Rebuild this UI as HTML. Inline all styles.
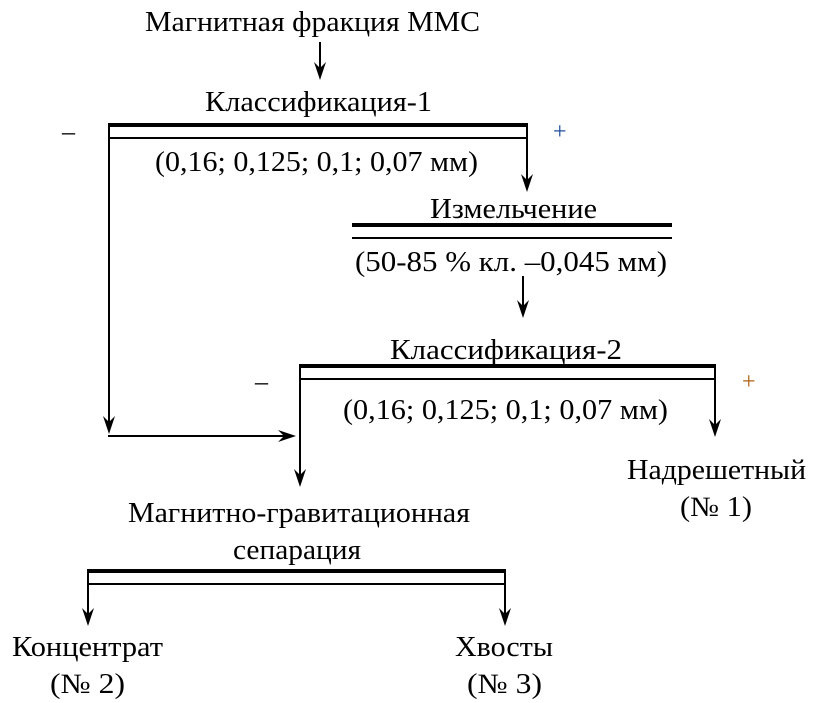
<!DOCTYPE html>
<html><head><meta charset="utf-8"><style>
html,body{margin:0;padding:0;background:#fff;}
svg{display:block;}
text{font-family:"Liberation Serif","Times New Roman",serif;font-size:28px;fill:#000;}
</style></head><body>
<svg width="821" height="703" viewBox="0 0 821 703" xmlns="http://www.w3.org/2000/svg">
<defs>
<path id="ad" d="M0,0 L-6,-18 L0,-12 L6,-18 Z" fill="#000"/>
</defs>
<g stroke="#000" fill="none" stroke-width="2">
<line x1="320" y1="42" x2="320" y2="74"/>
<line x1="108" y1="125" x2="528" y2="125" stroke-width="4"/>
<line x1="108" y1="138" x2="528" y2="138"/>
<line x1="109" y1="124" x2="109" y2="428"/>
<line x1="527" y1="124" x2="527" y2="186"/>
<line x1="352" y1="225" x2="672" y2="225" stroke-width="4"/>
<line x1="352" y1="238" x2="672" y2="238"/>
<line x1="523" y1="276" x2="523" y2="312"/>
<line x1="299" y1="366" x2="716" y2="366" stroke-width="4"/>
<line x1="299" y1="379" x2="716" y2="379"/>
<line x1="300" y1="365" x2="300" y2="481"/>
<line x1="715" y1="365" x2="715" y2="431"/>
<line x1="108" y1="436" x2="290" y2="436"/>
<line x1="87" y1="571" x2="506" y2="571" stroke-width="4"/>
<line x1="87" y1="584" x2="506" y2="584"/>
<line x1="88" y1="570" x2="88" y2="620"/>
<line x1="505" y1="570" x2="505" y2="620"/>
</g>
<use href="#ad" x="320" y="80"/>
<use href="#ad" x="109" y="434"/>
<use href="#ad" x="527" y="192"/>
<use href="#ad" x="523" y="318"/>
<use href="#ad" x="300" y="487"/>
<use href="#ad" x="715" y="437"/>
<use href="#ad" x="88" y="626"/>
<use href="#ad" x="505" y="626"/>
<path d="M296,436 L278,430 L284,436 L278,442 Z" fill="#000"/>
<text x="145" y="31" textLength="335" lengthAdjust="spacingAndGlyphs">Магнитная фракция ММС</text>
<text x="205" y="111" textLength="227" lengthAdjust="spacingAndGlyphs">Классификация-1</text>
<text x="62" y="140" style="font-size:26px">–</text>
<text x="553" y="139" style="font-size:24px;fill:#1f4e9a">+</text>
<text x="155" y="171" textLength="323" lengthAdjust="spacingAndGlyphs">(0,16; 0,125; 0,1; 0,07 мм)</text>
<text x="430" y="218" textLength="167" lengthAdjust="spacingAndGlyphs">Измельчение</text>
<text x="355" y="271" textLength="312" lengthAdjust="spacingAndGlyphs">(50-85 % кл. –0,045 мм)</text>
<text x="390" y="359" textLength="232" lengthAdjust="spacingAndGlyphs">Классификация-2</text>
<text x="255" y="390" style="font-size:26px">–</text>
<text x="742" y="389" style="font-size:24px;fill:#b06010">+</text>
<text x="343" y="419" textLength="325" lengthAdjust="spacingAndGlyphs">(0,16; 0,125; 0,1; 0,07 мм)</text>
<text x="627" y="479" textLength="179" lengthAdjust="spacingAndGlyphs">Надрешетный</text>
<text x="680" y="516" textLength="72" lengthAdjust="spacingAndGlyphs">(№ 1)</text>
<text x="128" y="522" textLength="342" lengthAdjust="spacingAndGlyphs">Магнитно-гравитационная</text>
<text x="233" y="559" textLength="128" lengthAdjust="spacingAndGlyphs">сепарация</text>
<text x="12" y="656" textLength="151" lengthAdjust="spacingAndGlyphs">Концентрат</text>
<text x="50" y="693" textLength="75" lengthAdjust="spacingAndGlyphs">(№ 2)</text>
<text x="455" y="656" textLength="98" lengthAdjust="spacingAndGlyphs">Хвосты</text>
<text x="467" y="693" textLength="75" lengthAdjust="spacingAndGlyphs">(№ 3)</text>
</svg>
</body></html>
